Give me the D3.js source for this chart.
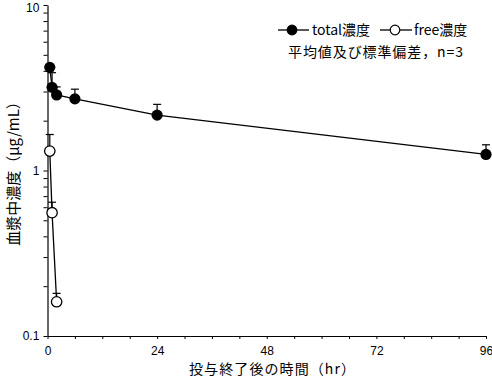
<!DOCTYPE html>
<html><head><meta charset="utf-8">
<script src="https://cdn.jsdelivr.net/npm/d3@7"></script>
<style>
body{margin:0;background:#fff;}
svg{display:block;}
text{fill:#000;}
</style></head>
<body><svg id="c" width="492" height="378"></svg>
<script>
// data
const times = [0.5, 1, 2, 6, 24, 96];
const totalMean = [4.20, 3.18, 2.86, 2.71, 2.16, 1.25];
const totalUpper = [4.35, 3.90, 3.20, 3.10, 2.51, 1.43];
const freeTimes = [0.5, 1, 2];
const freeMean = [1.31, 0.556, 0.161];
const freeUpper = [1.65, 0.643, 0.181];
const xTickLabels = [0, 24, 48, 72, 96];
const yTickLabels = [0.1, 1, 10];
const legendLabels = ["total濃度", "free濃度"];
const noteText = "平均値及び標準偏差，n=3";
const xTitle = "投与終了後の時間（hr）";
const yTitle = "血漿中濃度（μg/mL）";

const svg = d3.select("#c");
const x = d3.scaleLinear().domain([0, 96]).range([47.5, 486]);
const y = d3.scaleLog().domain([0.1, 10]).range([336, 5]);
const latin = "'Liberation Sans', Arial, Helvetica, sans-serif";
const cjk = "'Noto Sans CJK JP', 'Liberation Sans', sans-serif";

// x axis
const xMinor = d3.range(0, 97, 6);
const xAxis = svg.append("g").attr("transform", `translate(0,${y(0.1)})`)
  .call(d3.axisBottom(x).tickValues(xMinor).tickSize(3).tickSizeOuter(0)
    .tickFormat(d => xTickLabels.includes(d) ? d : ""));
xAxis.selectAll("text").attr("font-family", latin).attr("font-size", 12).attr("dy", "1.05em");
xAxis.select(".domain").attr("stroke-width", 1.2);

// y axis
const yMinor = [];
[0.1, 1].forEach(b => { for (let k = 1; k <= 9; k++) yMinor.push(b * k); });
yMinor.push(10);
const yAxis = svg.append("g").attr("transform", `translate(${x(0)},0)`)
  .call(d3.axisLeft(y).tickValues(yMinor).tickSize(4).tickSizeOuter(0)
    .tickFormat(d => yTickLabels.some(v => Math.abs(v - d) < 1e-9) ? String(d) : ""));
yAxis.selectAll("text").attr("font-family", latin).attr("font-size", 12).attr("dx", "-0.1em")
  .attr("dy", d => Math.abs(d - 10) < 1e-9 ? "0.5em" : "0.32em");
yAxis.select(".domain").attr("stroke-width", 1.2);

// lines
const line = d3.line().x(d => x(d[0])).y(d => y(d[1]));
const totalPts = times.map((t, i) => [t, totalMean[i], totalUpper[i]]);
const freePts = freeTimes.map((t, i) => [t, freeMean[i], freeUpper[i]]);

function errBars(pts) {
  const g = svg.append("g").attr("stroke", "#000").attr("stroke-width", 1.2);
  pts.forEach(p => {
    g.append("line").attr("x1", x(p[0])).attr("x2", x(p[0])).attr("y1", y(p[1])).attr("y2", y(p[2]));
    g.append("line").attr("x1", x(p[0]) - 4).attr("x2", x(p[0]) + 4).attr("y1", y(p[2])).attr("y2", y(p[2]));
  });
}
errBars(totalPts);
errBars(freePts);

svg.append("path").datum(totalPts).attr("d", line).attr("fill", "none").attr("stroke", "#000").attr("stroke-width", 1.3);
svg.append("path").datum(freePts).attr("d", line).attr("fill", "none").attr("stroke", "#000").attr("stroke-width", 1.3);

svg.append("g").selectAll("circle").data(totalPts).join("circle")
  .attr("cx", d => x(d[0])).attr("cy", d => y(d[1])).attr("r", 5.6).attr("fill", "#000");
svg.append("g").selectAll("circle").data(freePts).join("circle")
  .attr("cx", d => x(d[0])).attr("cy", d => y(d[1])).attr("r", 5.2)
  .attr("fill", "#fff").attr("stroke", "#000").attr("stroke-width", 1.3);

// legend
const leg = svg.append("g");
const legItems = [{x0: 278, x1: 309, cx: 292, tx: 312, fill: "#000"}, {x0: 380, x1: 412, cx: 395, tx: 414, fill: "#fff"}];
legItems.forEach((it, i) => {
  leg.append("line").attr("x1", it.x0).attr("x2", it.x1).attr("y1", 30).attr("y2", 30).attr("stroke", "#000").attr("stroke-width", 1.3);
  leg.append("circle").attr("cx", it.cx).attr("cy", 30).attr("r", 4.8).attr("fill", it.fill).attr("stroke", "#000").attr("stroke-width", 1.2);
  leg.append("text").attr("x", it.tx).attr("y", 30).attr("dy", "0.36em")
    .attr("font-family", cjk).attr("font-size", 14).text(legendLabels[i]);
});
leg.append("text").attr("x", 288).attr("y", 52).attr("dy", "0.36em")
  .attr("font-family", cjk).attr("font-size", 14).attr("textLength", 175).text(noteText);

// titles
svg.append("text").attr("x", 272).attr("y", 369).attr("dy", "0.36em").attr("text-anchor", "middle")
  .attr("font-family", cjk).attr("font-size", 14).attr("textLength", 166).text(xTitle);
svg.append("text").attr("transform", "translate(14,170) rotate(-90)").attr("dy", "0.36em").attr("text-anchor", "middle")
  .attr("font-family", cjk).attr("font-size", 15).text(yTitle);
</script></body></html>
